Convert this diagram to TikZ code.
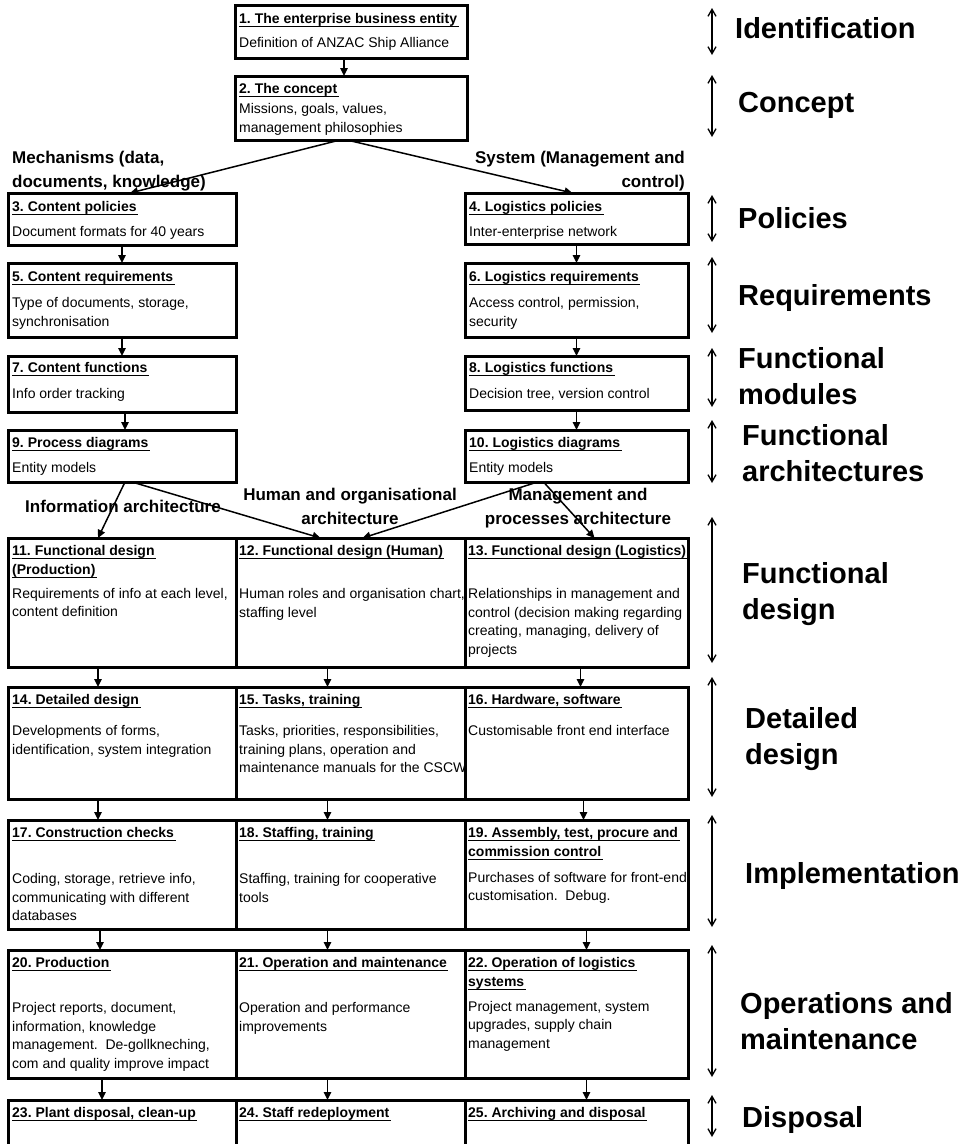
\documentclass[tikz,border=0pt]{standalone}
\usepackage{fontspec}
\setmainfont{Liberation Sans}
\usetikzlibrary{positioning,arrows.meta,calc}
\frenchspacing
\newcommand{\stagehead}[1]{\setbox0\hbox{\textbf{#1}\kern1.5pt}\rlap{\rule[-3.8pt]{\wd0}{1.3pt}}\box0}
\tikzset{
  stagebox/.style 2 args={
    draw=black,
    line width=3pt,
    minimum width=#1,
    minimum height=#2,
    inner sep=0pt,
    outer sep=0pt,
    anchor=north west
  },
  stagetext/.style={
    anchor=north west,
    align=left,
    inner sep=0pt,
    font=\fontsize{14pt}{18.7pt}\selectfont
  },
  branchlabel/.style={
    inner sep=0pt,
    font=\fontsize{17pt}{24pt}\selectfont\bfseries
  },
  phaselabel/.style={
    anchor=north west,
    align=left,
    inner sep=0pt,
    font=\fontsize{29pt}{36pt}\selectfont\bfseries
  },
  arrow/.style={-{Triangle[length=8pt,width=7.5pt]},line width=1.5pt,draw=black},
  phasespan/.style={{Straight Barb[length=7pt,width=8pt]}-{Straight Barb[length=7pt,width=8pt]},line width=1.3pt}
}

\begin{document}
\begin{tikzpicture}[x=1pt,y=-1pt]
    \useasboundingbox (0,0) rectangle (964,1144);
    \clip (0,0) rectangle (964,1144);

    % upper chain
    \node[stagebox={232pt}{53pt}] (b1) at (235,5) {};
    \node[stagebox={232pt}{64pt}] (b2) at (235,76) {};
    \node[stagebox={228pt}{52pt}] (b3) at (8,193) {};
    \node[stagebox={223pt}{51pt}] (b4) at (465,193) {};
    \node[stagebox={228pt}{74pt}] (b5) at (8,263) {};
    \node[stagebox={223pt}{74pt}] (b6) at (465,263) {};
    \node[stagebox={228pt}{56pt}] (b7) at (8,356) {};
    \node[stagebox={223pt}{54pt}] (b8) at (465,356) {};
    \node[stagebox={228pt}{52pt}] (b9) at (8,430) {};
    \node[stagebox={223pt}{52pt}] (b10) at (465,430) {};

    \node[stagetext] (t1) at ([shift={(4,8)}]b1.north west) {\stagehead{1. The enterprise business entity}\\[5.3pt]Definition of ANZAC Ship Alliance};
    \node[stagetext] (t2) at ([shift={(4,7)}]b2.north west) {\stagehead{2. The concept}\\[1.3pt]Missions, goals, values,\\management philosophies};
    \node[stagetext] (t3) at ([shift={(4,8)}]b3.north west) {\stagehead{3. Content policies}\\[6.3pt]Document formats for 40 years};
    \node[stagetext] (t4) at ([shift={(4,8)}]b4.north west) {\stagehead{4. Logistics policies}\\[6.3pt]Inter-enterprise network};
    \node[stagetext] (t5) at ([shift={(4,8)}]b5.north west) {\stagehead{5. Content requirements}\\[7.3pt]Type of documents, storage,\\synchronisation};
    \node[stagetext] (t6) at ([shift={(4,8)}]b6.north west) {\stagehead{6. Logistics requirements}\\[7.3pt]Access control, permission,\\security};
    \node[stagetext] (t7) at ([shift={(4,6)}]b7.north west) {\stagehead{7. Content functions}\\[7.3pt]Info order tracking};
    \node[stagetext] (t8) at ([shift={(4,6)}]b8.north west) {\stagehead{8. Logistics functions}\\[7.3pt]Decision tree, version control};
    \node[stagetext] (t9) at ([shift={(4,7)}]b9.north west) {\stagehead{9. Process diagrams}\\[6.3pt]Entity models};
    \node[stagetext] (t10) at ([shift={(4,7)}]b10.north west) {\stagehead{10. Logistics diagrams}\\[6.3pt]Entity models};

    % lower grid
    \node[stagebox={228pt}{129pt}] (b11) at (8,538) {};
    \node[stagebox={229pt}{129pt}] (b12) at (236,538) {};
    \node[stagebox={223pt}{129pt}] (b13) at (465,538) {};
    \node[stagebox={228pt}{112pt}] (b14) at (8,687) {};
    \node[stagebox={229pt}{112pt}] (b15) at (236,687) {};
    \node[stagebox={223pt}{112pt}] (b16) at (465,687) {};
    \node[stagebox={228pt}{109pt}] (b17) at (8,820) {};
    \node[stagebox={229pt}{109pt}] (b18) at (236,820) {};
    \node[stagebox={223pt}{109pt}] (b19) at (465,820) {};
    \node[stagebox={228pt}{128pt}] (b20) at (8,950) {};
    \node[stagebox={229pt}{128pt}] (b21) at (236,950) {};
    \node[stagebox={223pt}{128pt}] (b22) at (465,950) {};
    \node[stagebox={228pt}{70pt}] (b23) at (8,1100) {};
    \node[stagebox={229pt}{70pt}] (b24) at (236,1100) {};
    \node[stagebox={223pt}{70pt}] (b25) at (465,1100) {};

    \node[stagetext] (t11) at ([shift={(4,7)}]b11.north west) {\stagehead{11. Functional design}\\\stagehead{(Production)}\\[5.3pt]Requirements of info at each level,\\content definition};
    \node[stagetext] (t12) at ([shift={(3,7)}]b12.north west) {\stagehead{12. Functional design (Human)}\\[24.3pt]Human roles and organisation chart,\\staffing level};
    \node[stagetext] (t13) at ([shift={(3,7)}]b13.north west) {\stagehead{13. Functional design (Logistics)}\\[24.3pt]Relationships in management and\\control (decision making regarding\\creating, managing, delivery of\\projects};
    \node[stagetext] (t14) at ([shift={(4,7)}]b14.north west) {\stagehead{14. Detailed design}\\[12.3pt]Developments of forms,\\identification, system integration};
    \node[stagetext] (t15) at ([shift={(3,7)}]b15.north west) {\stagehead{15. Tasks, training}\\[12.3pt]Tasks, priorities, responsibilities,\\training plans, operation and\\maintenance manuals for the CSCW};
    \node[stagetext] (t16) at ([shift={(3,7)}]b16.north west) {\stagehead{16. Hardware, software}\\[12.3pt]Customisable front end interface};
    \node[stagetext] (t17) at ([shift={(4,7)}]b17.north west) {\stagehead{17. Construction checks}\\[27.3pt]Coding, storage, retrieve info,\\communicating with different\\databases};
    \node[stagetext] (t18) at ([shift={(3,7)}]b18.north west) {\stagehead{18. Staffing, training}\\[27.3pt]Staffing, training for cooperative\\tools};
    \node[stagetext] (t19) at ([shift={(3,7)}]b19.north west) {\stagehead{19. Assembly, test, procure and}\\\stagehead{commission control}\\[7.3pt]Purchases of software for front-end\\customisation.~ Debug.};
    \node[stagetext] (t20) at ([shift={(4,7)}]b20.north west) {\stagehead{20. Production}\\[26.3pt]Project reports, document,\\information, knowledge\\management.~ De-gollkneching,\\com and quality improve impact};
    \node[stagetext] (t21) at ([shift={(3,7)}]b21.north west) {\stagehead{21. Operation and maintenance}\\[26.3pt]Operation and performance\\improvements};
    \node[stagetext] (t22) at ([shift={(3,7)}]b22.north west) {\stagehead{22. Operation of logistics}\\\stagehead{systems}\\[6.3pt]Project management, system\\upgrades, supply chain\\management};
    \node[stagetext] (t23) at ([shift={(4,7)}]b23.north west) {\stagehead{23. Plant disposal, clean-up}};
    \node[stagetext] (t24) at ([shift={(3,7)}]b24.north west) {\stagehead{24. Staff redeployment}};
    \node[stagetext] (t25) at ([shift={(3,7)}]b25.north west) {\stagehead{25. Archiving and disposal}};

    % branch labels
    \node[branchlabel,anchor=north west,align=left] (mech) at (12,151) {Mechanisms (data,\\documents, knowledge)};
    \node[branchlabel,anchor=north east,align=right] (sys) at (685,151) {System (Management and\\control)};
    \node[branchlabel,anchor=north west] (infoarch) at (25,500) {Information architecture};
    \node[branchlabel,anchor=north,align=center] (humarch) at (350,488) {Human and organisational\\architecture};
    \node[branchlabel,anchor=north,align=center] (mgtarch) at (578,488) {Management and\\processes architecture};

    % connectors
    \draw[arrow] ([xshift=-7pt]b1.south) -- ([xshift=-7pt]b2.north);
    \draw[arrow] ([xshift=-11pt]b2.south) -- ([xshift=8pt]b3.north);
    \draw[arrow] ([xshift=-4pt]b2.south) -- ([xshift=-4pt]b4.north);
    \draw[arrow] (b3) -- (b5);
    \draw[arrow] (b5) -- (b7);
    \draw[arrow] ([xshift=3pt]b7.south) -- ([xshift=3pt]b9.north);
    \draw[arrow] (b4) -- (b6);
    \draw[arrow] (b6) -- (b8);
    \draw[arrow] (b8) -- (b10);
    \draw[arrow] ([xshift=3pt]b9.south) -- ([xshift=-24pt]b11.north);
    \draw[arrow] ([xshift=10pt]b9.south) -- ([xshift=-30pt]b12.north);
    \draw[arrow] ([xshift=-39pt]b10.south) -- ([xshift=12pt]b12.north);
    \draw[arrow] ([xshift=-33pt]b10.south) -- ([xshift=18pt]b13.north);
    \draw[arrow] ([xshift=-24pt]b11.south) -- ([xshift=-24pt]b14.north);
    \draw[arrow] ([xshift=-23pt]b12.south) -- ([xshift=-23pt]b15.north);
    \draw[arrow] ([xshift=4pt]b13.south) -- ([xshift=4pt]b16.north);
    \draw[arrow] ([xshift=-24pt]b14.south) -- ([xshift=-24pt]b17.north);
    \draw[arrow] ([xshift=-23pt]b15.south) -- ([xshift=-23pt]b18.north);
    \draw[arrow] ([xshift=7pt]b16.south) -- ([xshift=7pt]b19.north);
    \draw[arrow] ([xshift=-22pt]b17.south) -- ([xshift=-22pt]b20.north);
    \draw[arrow] ([xshift=-23pt]b18.south) -- ([xshift=-23pt]b21.north);
    \draw[arrow] ([xshift=10pt]b19.south) -- ([xshift=10pt]b22.north);
    \draw[arrow] ([xshift=-20pt]b20.south) -- ([xshift=-20pt]b23.north);
    \draw[arrow] ([xshift=-23pt]b21.south) -- ([xshift=-23pt]b24.north);
    \draw[arrow] ([xshift=10pt]b22.south) -- ([xshift=10pt]b25.north);

    % life-cycle phases
    \draw[phasespan] (712,8) -- (712,55);
    \draw[phasespan] (712,75) -- (712,137);
    \draw[phasespan] (712,195) -- (712,242);
    \draw[phasespan] (712,257) -- (712,333);
    \draw[phasespan] (712,348) -- (712,407);
    \draw[phasespan] (712,420) -- (712,483);
    \draw[phasespan] (712,517) -- (712,663);
    \draw[phasespan] (712,677) -- (712,797);
    \draw[phasespan] (712,815) -- (712,927);
    \draw[phasespan] (712,945) -- (712,1077);
    \draw[phasespan] (712,1095) -- (712,1137);

    \node[phaselabel] (ident) at (735,17.5) {Identification};
    \node[phaselabel] (concept) at (738,92.5) {Concept};
    \node[phaselabel] (policies) at (738,207.5) {Policies};
    \node[phaselabel] (reqs) at (738,284.5) {Requirements};
    \node[phaselabel] (modules) at (738,347.5) {Functional\\modules};
    \node[phaselabel] (archs) at (742,424.5) {Functional\\architectures};
    \node[phaselabel] (fdesign) at (742,562.5) {Functional\\design};
    \node[phaselabel] (ddesign) at (745,707.5) {Detailed\\design};
    \node[phaselabel] (impl) at (745,862.5) {Implementation};
    \node[phaselabel] (opmaint) at (740,992.5) {Operations and\\maintenance};
    \node[phaselabel] (disposal) at (742,1106.5) {Disposal};
\end{tikzpicture}
\end{document}
